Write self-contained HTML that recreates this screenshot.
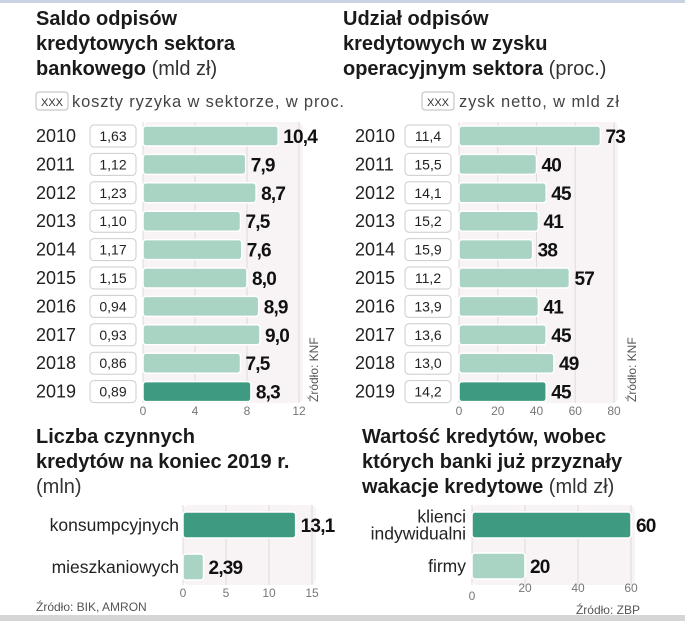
<!DOCTYPE html>
<html><head><meta charset="utf-8"><style>
body{margin:0;width:685px;height:621px;background:#fff;overflow:hidden;font-family:"Liberation Sans",sans-serif}
svg text{font-family:"Liberation Sans",sans-serif}
</style></head><body>
<svg id="s" width="685" height="621">
<rect x="0" y="0" width="685" height="3" fill="#c9d3e3"/>
<rect x="0" y="615" width="685" height="6" fill="#d6d6d6"/>
<g font-weight="bold" font-size="20" fill="#1a1a1a">
<text x="36" y="25">Saldo odpisów</text>
<text x="36" y="50">kredytowych sektora</text>
<text x="36" y="75">bankowego <tspan font-weight="normal" fill="#333">(mld zł)</tspan></text>
</g>
<g font-weight="bold" font-size="20" fill="#1a1a1a">
<text x="343" y="25">Udział odpisów</text>
<text x="343" y="50">kredytowych w zysku</text>
<text x="343" y="75">operacyjnym sektora <tspan font-weight="normal" fill="#333">(proc.)</tspan></text>
</g>
<g>
<rect x="36" y="92" width="32" height="18" rx="3" fill="#fff" stroke="#bbb"/>
<text x="52" y="106" font-size="11" text-anchor="middle" fill="#333">XXX</text>
<text x="72" y="107" font-size="16.5" fill="#444" textLength="272">koszty ryzyka w sektorze, w proc.</text>
</g>
<g>
<rect x="422" y="92" width="32" height="18" rx="3" fill="#fff" stroke="#bbb"/>
<text x="438" y="106" font-size="11" text-anchor="middle" fill="#333">XXX</text>
<text x="459" y="107" font-size="16.5" fill="#444" textLength="160">zysk netto, w mld zł</text>
</g>
<g font-weight="bold" font-size="20" fill="#1a1a1a">
<text x="36" y="443">Liczba czynnych</text>
<text x="36" y="468">kredytów na koniec 2019 r.</text>
<text x="36" y="493" font-weight="normal" fill="#333">(mln)</text>
</g>
<g font-weight="bold" font-size="20" fill="#1a1a1a">
<text x="362" y="443">Wartość kredytów, wobec</text>
<text x="362" y="468">których banki już przyznały</text>
<text x="362" y="493">wakacje kredytowe <tspan font-weight="normal" fill="#333">(mld zł)</tspan></text>
</g>
<text transform="translate(318,402) rotate(-90)" font-size="12" fill="#555">Źródło: KNF</text>
<text transform="translate(636,402) rotate(-90)" font-size="12" fill="#555">Źródło: KNF</text>
<text x="36" y="611" font-size="12" fill="#555">Źródło: BIK, AMRON</text>
<text x="640" y="614" font-size="12" fill="#555" text-anchor="end">Źródło: ZBP</text>
</svg>
<script>
const years=["2010","2011","2012","2013","2014","2015","2016","2017","2018","2019"];
const saldo=[10.4,7.9,8.7,7.5,7.6,8.0,8.9,9.0,7.5,8.3];
const koszty=["1,63","1,12","1,23","1,10","1,17","1,15","0,94","0,93","0,86","0,89"];
const udzial=[73,40,45,41,38,57,41,45,49,45];
const zysk=["11,4","15,5","14,1","15,2","15,9","11,2","13,9","13,6","13,0","14,2"];
const ticks1=[0,4,8,12];
const ticks2=[0,20,40,60,80];
const cat3=["konsumpcyjnych","mieszkaniowych"];
const val3=[13.1,2.39];
const ticks3=[0,5,10,15];
const cat4=[["klienci","indywidualni"],["firmy"]];
const val4=[60,20];
const ticks4=[0,20,40,60];
const S=document.getElementById('s');
const NS='http://www.w3.org/2000/svg';
function mk(t,a,p){const e=document.createElementNS(NS,t);for(const k in a)e.setAttribute(k,a[k]);(p||S).appendChild(e);return e;}
const LIGHT='#a9d4c4',DARK='#3e9a80';
function chart(o){
  const g=mk('g',{});
  
  
  const x=v=>o.x0+(v/o.max)*(o.x1-o.x0);
  const bg=mk('rect',{x:o.x0,y:o.top,width:o.x1-o.x0+4,height:o.bottom-o.top,fill:'#f8f3f4',rx:6},g);
  
  
  o.ticks.forEach((t,i)=>{
    const l=mk('line',{x1:x(t),x2:x(t),y1:o.top,y2:o.bottom,stroke:'#e2dadc','stroke-width':1},g);
    
    
    const tx=mk('text',{x:x(t),y:o.tickY+((o.zeroLow&&i==0)?8:0),'font-size':12,fill:'#777','text-anchor':'middle'},g);
    tx.textContent=t;
    
    
  });
  o.vals.forEach((v,i)=>{
    const cy=o.y0+i*o.dy;
    const dark=o.dark(i);
    const b=mk('rect',{x:o.x0,y:cy-o.bh/2,width:x(v)-o.x0,height:o.bh,rx:3,fill:dark?DARK:LIGHT,stroke:'#fff','stroke-width':1.5},g);
    
    
    const vt=mk('text',{x:x(v)+5,y:cy+7,'font-size':19,'font-weight':'bold',fill:'#111',style:'letter-spacing:-0.8px'},g);
    vt.textContent=(o.dec==null?String(v):v.toFixed(o.dec)).replace('.',',');
    
    
    const labs=o.labels[i];
    const arr=Array.isArray(labs)?labs:[labs];
    arr.forEach((s,j)=>{
      const lt=mk('text',{x:o.labX,y:cy+6+(j-(arr.length-1)/2)*17,'font-size':o.labFs,fill:'#222','text-anchor':o.labAnchor},g);
      lt.textContent=s;
      
      
    });
    if(o.boxes){
      const br=mk('rect',{x:o.boxX,y:cy-11,width:46,height:22,rx:4,fill:'#fff',stroke:'#ccc'},g);
      
      
      const bt=mk('text',{x:o.boxX+23,y:cy+5,'font-size':14,fill:'#222','text-anchor':'middle'},g);
      bt.textContent=o.boxes[i];
      
      
    }
  });
}
chart({name:'chart-saldo',x0:143,x1:299,max:12,top:122,bottom:403,ticks:ticks1,tickY:415,vals:saldo,dec:1,y0:136,dy:28.4,bh:20,dark:i=>i==9,labels:years,labX:36,labFs:18,labAnchor:'start',boxes:koszty,boxX:90});
chart({name:'chart-udzial',x0:459,x1:614,max:80,top:122,bottom:403,ticks:ticks2,tickY:415,vals:udzial,y0:136,dy:28.4,bh:20,dark:i=>i==9,labels:years,labX:355,labFs:18,labAnchor:'start',boxes:zysk,boxX:405});
chart({name:'chart-liczba',x0:183,x1:312,max:15,top:505,bottom:585,ticks:ticks3,tickY:597,vals:val3,y0:525,dy:42,bh:26,dark:i=>i==0,labels:cat3,labX:179,labFs:17.5,labAnchor:'end'});
chart({name:'chart-wartosc',x0:472,x1:631,max:60,top:505,bottom:585,ticks:ticks4,tickY:592,zeroLow:true,vals:val4,y0:525,dy:41,bh:26,dark:i=>i==0,labels:cat4,labX:466,labFs:17.5,labAnchor:'end'});
</script>
</body></html>
